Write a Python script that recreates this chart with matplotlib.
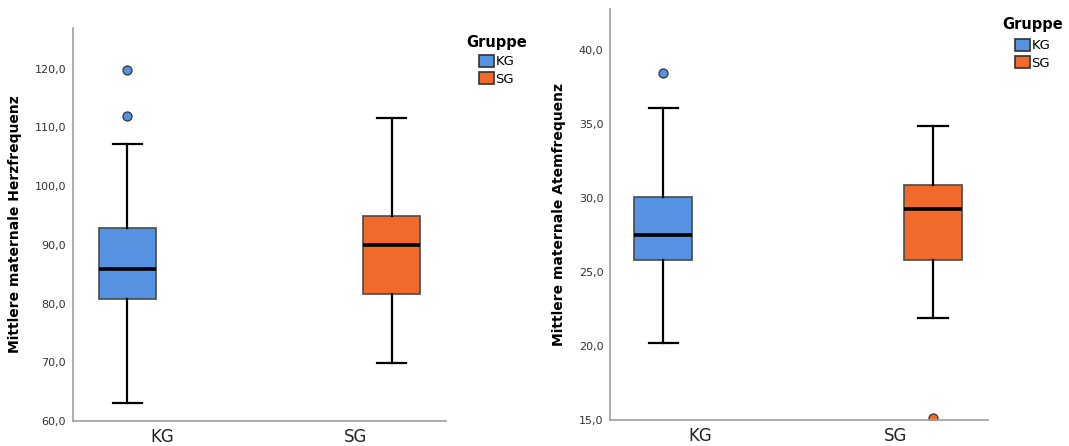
import numpy as np
import matplotlib
matplotlib.use("Agg")
import matplotlib.pyplot as plt
from matplotlib.patches import Patch

plt.rcParams["font.family"] = ["DejaVu Sans"]

# Gruppen
gruppen = ["KG", "SG"]
farben = ["#5592E2", "#F26A2B"]

# Herzfrequenz (Kennwerte je Gruppe)
hf_whislo = [63.1, 69.9]
hf_q1 = [80.8, 81.6]
hf_med = [85.8, 89.9]
hf_q3 = [92.9, 94.9]
hf_whishi = [107.2, 111.6]
hf_ausreisser = [[119.7, 112.0], []]
hf_ticks = [60, 70, 80, 90, 100, 110, 120]

# Atemfrequenz
af_whislo = [20.2, 21.9]
af_q1 = [25.8, 25.8]
af_med = [27.5, 29.3]
af_q3 = [30.1, 30.9]
af_whishi = [36.1, 34.9]
af_ausreisser = [[38.5], [15.15]]
af_ticks = [15, 20, 25, 30, 35, 40]


def stats_bauen(lo, q1, med, q3, hi, fl):
    stats = []
    for i in range(len(gruppen)):
        stats.append({"whislo": lo[i], "q1": q1[i], "med": med[i], "q3": q3[i],
                      "whishi": hi[i], "fliers": fl[i], "label": gruppen[i]})
    return stats


def boxplot_zeichnen(ax, stats, ticks, ylim, ylabel, offsets):
    for i, s in enumerate(stats):
        pos = i + offsets[i]
        ax.bxp([s], positions=[pos], widths=0.295, patch_artist=True,
               showfliers=True,
               boxprops=dict(facecolor=farben[i], edgecolor="#4a4a4a", linewidth=1.2),
               medianprops=dict(color="black", linewidth=2.6),
               whiskerprops=dict(color="black", linewidth=1.6),
               capprops=dict(color="black", linewidth=1.6),
               capwidths=0.15,
               flierprops=dict(marker="o", markerfacecolor=farben[i],
                               markeredgecolor="#333333", markersize=6.5,
                               markeredgewidth=0.9))
    ax.set_xticks(range(len(gruppen)))
    ax.set_xticklabels(gruppen, fontsize=12, color="#222222")
    ax.set_yticks(ticks)
    ax.set_yticklabels([f"{t:.1f}".replace(".", ",") for t in ticks],
                       fontsize=8, color="#333333")
    ax.set_xlim(-0.46, 1.47)
    ax.set_ylim(*ylim)
    ax.tick_params(length=0, pad=5)
    ax.spines["top"].set_visible(False)
    ax.spines["right"].set_visible(False)
    ax.spines["left"].set_color("#a0a0a0")
    ax.spines["bottom"].set_color("#a0a0a0")
    ax.spines["left"].set_linewidth(1.2)
    ax.spines["bottom"].set_linewidth(1.2)
    ax.set_ylabel(ylabel, fontsize=10, fontweight="bold", labelpad=9)


fig = plt.figure(figsize=(10.69, 4.46), dpi=100)
ax1 = fig.add_axes([0.0683, 0.056, 0.349, 0.881])
ax2 = fig.add_axes([0.571, 0.058, 0.353, 0.922])

boxplot_zeichnen(ax1, stats_bauen(hf_whislo, hf_q1, hf_med, hf_q3, hf_whishi, hf_ausreisser),
                 hf_ticks, (60, 126.9), "Mittlere maternale Herzfrequenz", [-0.18, 0.19])
boxplot_zeichnen(ax2, stats_bauen(af_whislo, af_q1, af_med, af_q3, af_whishi, af_ausreisser),
                 af_ticks, (15, 42.8), "Mittlere maternale Atemfrequenz", [-0.19, 0.19])

# Legenden (Titel separat, Eintraege eingerueckt wie im Original)
handles = [Patch(facecolor=farben[i], edgecolor="#333333", linewidth=1.2, label=g)
           for i, g in enumerate(gruppen)]
for tx, ty, lx, ly in [(466, 42, 479, 55), (1002, 25, 1015, 39)]:
    fig.text(tx / 1069, 1 - ty / 446, "Gruppe", fontsize=10.5, fontweight="bold",
             ha="left", va="center")
    fig.legend(handles=handles, loc="upper left",
               bbox_to_anchor=(lx / 1069, 1 - ly / 446),
               frameon=False, fontsize=9.5,
               handlelength=1.1, handleheight=1.0, handletextpad=0.15,
               labelspacing=0.3, borderpad=0, borderaxespad=0)

fig.savefig("out.png", dpi=100)
